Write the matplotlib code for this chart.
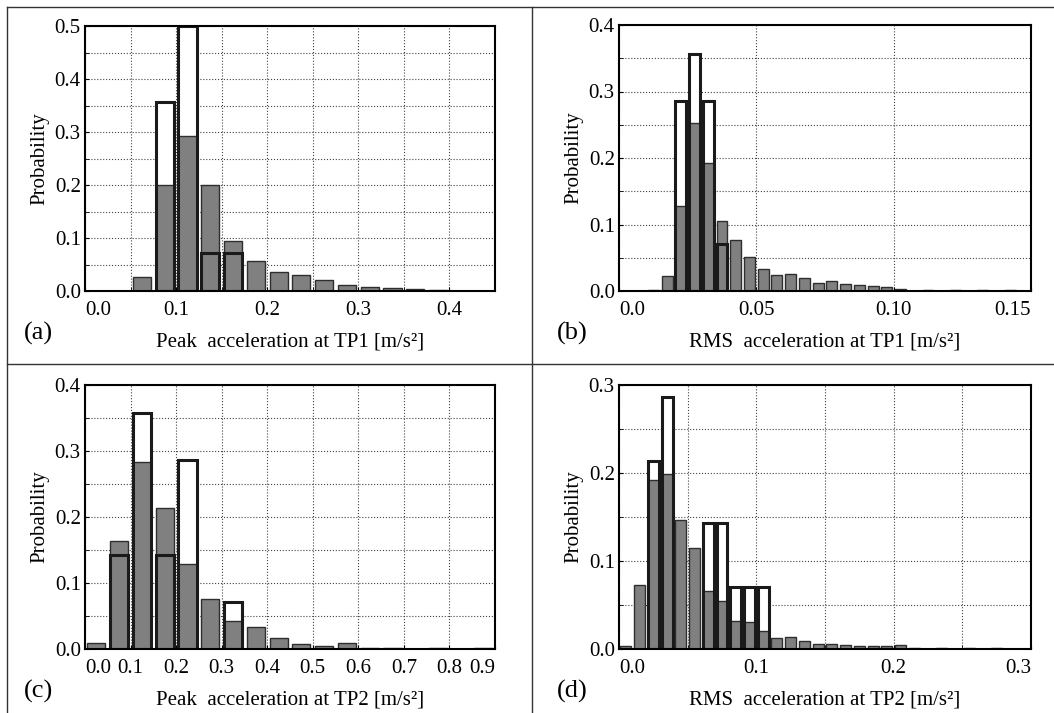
import numpy as np
import matplotlib
matplotlib.use('Agg')
import matplotlib.pyplot as plt
from matplotlib.lines import Line2D
from matplotlib.ticker import MultipleLocator, NullLocator

plt.rcParams['font.family'] = ['Liberation Serif', 'DejaVu Serif']

#histogram data: bin width, measured (gray) probabilities, simulated (outlined) bins
# (a) peak acceleration at TP1
a_width = 0.025
a_gray = [0, 0, 0.026, 0.2, 0.293, 0.2, 0.094, 0.056, 0.035, 0.030, 0.021, 0.011,
          0.008, 0.006, 0.003, 0.002, 0, 0]
a_out_bins = [3, 4, 5, 6]
a_out_vals = [0.357, 0.5, 0.071, 0.071]

# (b) RMS acceleration at TP1
b_width = 0.005
b_gray = [0, 0, 0.001, 0.022, 0.128, 0.252, 0.192, 0.106, 0.076, 0.051, 0.033, 0.0236,
          0.025, 0.020, 0.0126, 0.0156, 0.011, 0.0095, 0.008, 0.0055, 0.003, 0,
          0.0015, 0, 0.0015, 0, 0.0015, 0, 0.0015, 0]
b_out_bins = [4, 5, 6, 7]
b_out_vals = [0.286, 0.357, 0.286, 0.071]

# (c) peak acceleration at TP2
c_width = 0.05
c_gray = [0.009, 0.164, 0.284, 0.213, 0.129, 0.076, 0.042, 0.033, 0.016, 0.007, 0.004,
          0.009, 0.002, 0.0015, 0.0005, 0.0015, 0.0005, 0.001]
c_out_bins = [1, 2, 3, 4, 6]
c_out_vals = [0.143, 0.357, 0.143, 0.286, 0.071]

# (d) RMS acceleration at TP2
d_width = 0.01
d_gray = [0.003, 0.073, 0.192, 0.199, 0.147, 0.115, 0.066, 0.054, 0.032, 0.031, 0.020,
          0.013, 0.0136, 0.0095, 0.006, 0.006, 0.004, 0.0034, 0.0034, 0.0034, 0.0045,
          0.0015, 0, 0.001, 0, 0.0015, 0, 0.001, 0, 0]
d_out_bins = [2, 3, 6, 7, 8, 9, 10]
d_out_vals = [0.214, 0.286, 0.143, 0.143, 0.071, 0.071, 0.071]

W, H = 1054, 713
fig = plt.figure(figsize=(W / 100, H / 100), dpi=100)


def axes_px(left, top, right, bottom):
    return fig.add_axes([left / W, 1 - bottom / H, (right - left) / W, (bottom - top) / H])


def histPanel(ax, width, gray, out_bins, out_vals, xmax, ymax, xticks, xticklabels,
              yticks, x_minor, xlabel, tag):
    centers = width * (np.arange(len(gray)) + 0.5)
    out_centers = width * (np.array(out_bins) + 0.5)
    bw = 0.8 * width

    #white background of the outlined bars, gray bars, then the outlines on top
    ax.bar(out_centers, out_vals, width=bw, color='white', edgecolor='none', zorder=2)
    ax.bar(centers, gray, width=bw, color='#808080', edgecolor='#2e2e2e', linewidth=1.0, zorder=3)
    ax.bar(out_centers, out_vals, width=bw, fill=False, edgecolor='#1a1a1a', linewidth=2.2, zorder=4)

    ax.set_xlim(0, xmax)
    ax.set_ylim(0, ymax)
    ax.set_xticks(xticks)
    ax.set_xticklabels(xticklabels)
    ax.set_yticks(yticks)
    ax.set_yticklabels(['%.1f' % v for v in yticks])
    if x_minor:
        ax.xaxis.set_minor_locator(MultipleLocator(x_minor))
    else:
        ax.xaxis.set_minor_locator(NullLocator())
    ax.yaxis.set_minor_locator(MultipleLocator(0.05))

    ax.grid(True, which='both', linestyle=':', color='#444444', linewidth=0.8, zorder=0)
    ax.set_axisbelow(True)
    ax.tick_params(which='both', direction='in', length=3, labelsize=15, pad=7,
                   top=False, right=False)
    ax.tick_params(axis='y', pad=3)
    for sp in ax.spines.values():
        sp.set_linewidth(1.5)
        sp.set_zorder(5)

    #first label left aligned, last label right aligned when it sits on the edge
    labels = ax.get_xticklabels()
    labels[0].set_horizontalalignment('left')
    if abs(xticks[-1] - xmax) < 1e-9:
        labels[-1].set_horizontalalignment('right')

    ax.set_xlabel(xlabel, fontsize=15, labelpad=9)
    ax.set_ylabel('Probability', fontsize=15, labelpad=4)
    ax.text(-0.15, -0.16, tag, transform=ax.transAxes, fontsize=19, va='center', ha='left')


ax_a = axes_px(85, 26, 495, 291)
histPanel(ax_a, a_width, a_gray, a_out_bins, a_out_vals, 0.45, 0.5,
          [0, 0.1, 0.2, 0.3, 0.4], ['0.0', '0.1', '0.2', '0.3', '0.4'],
          [0, 0.1, 0.2, 0.3, 0.4, 0.5], 0.05,
          'Peak  acceleration at TP1 [m/s²]', '(a)')

ax_b = axes_px(619, 25, 1031, 291)
histPanel(ax_b, b_width, b_gray, b_out_bins, b_out_vals, 0.15, 0.4,
          [0, 0.05, 0.10, 0.15], ['0.0', '0.05', '0.10', '0.15'],
          [0, 0.1, 0.2, 0.3, 0.4], None,
          'RMS  acceleration at TP1 [m/s²]', '(b)')

ax_c = axes_px(85, 385, 495, 649)
histPanel(ax_c, c_width, c_gray, c_out_bins, c_out_vals, 0.9, 0.4,
          [0, 0.1, 0.2, 0.3, 0.4, 0.5, 0.6, 0.7, 0.8, 0.9],
          ['0.0', '0.1', '0.2', '0.3', '0.4', '0.5', '0.6', '0.7', '0.8', '0.9'],
          [0, 0.1, 0.2, 0.3, 0.4], None,
          'Peak  acceleration at TP2 [m/s²]', '(c)')

ax_d = axes_px(619, 385, 1031, 649)
histPanel(ax_d, d_width, d_gray, d_out_bins, d_out_vals, 0.3, 0.3,
          [0, 0.1, 0.2, 0.3], ['0.0', '0.1', '0.2', '0.3'],
          [0, 0.1, 0.2, 0.3], 0.05,
          'RMS  acceleration at TP2 [m/s²]', '(d)')

#table-like frame around the panels
frame = dict(color='#333333', linewidth=1.0, transform=None)
def px_line(x0, y0, x1, y1):
    fig.add_artist(Line2D([x0, x1], [H - y0, H - y1], **frame))

px_line(7, 6.5, W, 6.5)
px_line(7, 6.5, 7, H)
px_line(532, 6.5, 532, H)
px_line(7, 364, W, 364)

fig.savefig('out.png', dpi=100)
